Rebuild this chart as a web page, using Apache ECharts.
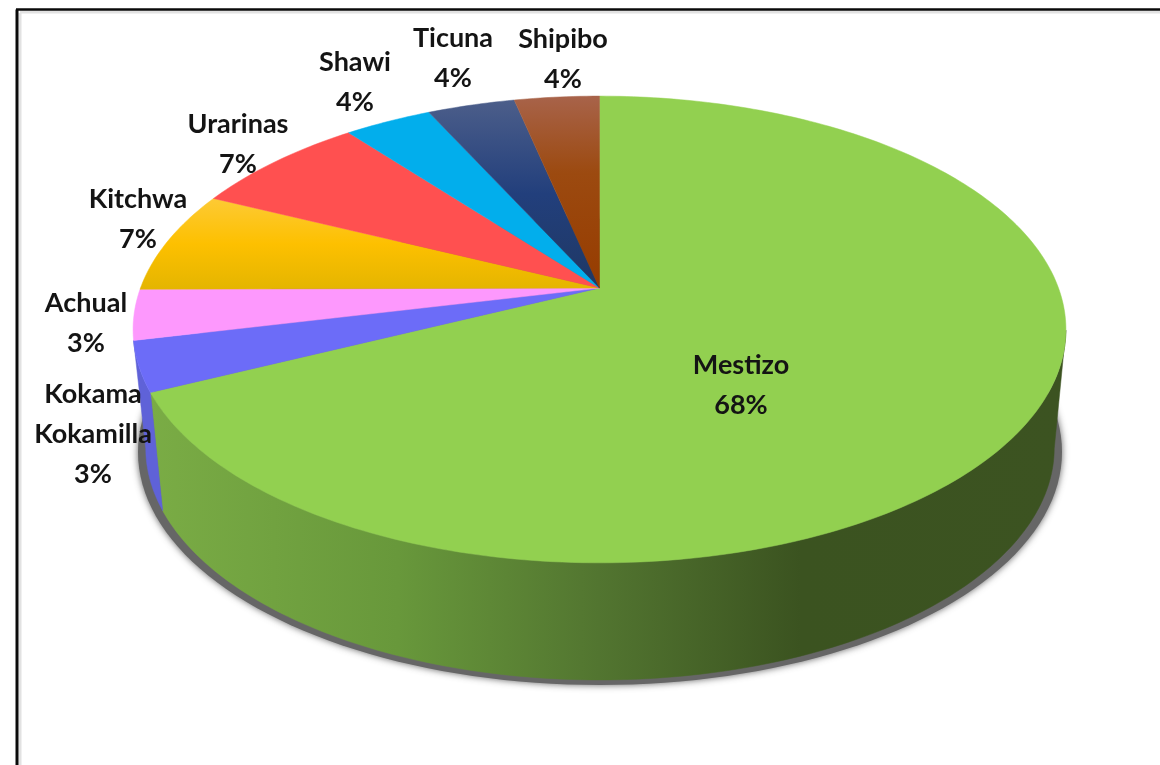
<!DOCTYPE html>
<html>
<head>
<meta charset="utf-8">
<title>Mestizo 68%</title>
<style>
html, body { margin: 0; padding: 0; background: #fff; }
#chart { width: 1160px; height: 765px; }
</style>
<script src="https://cdn.jsdelivr.net/npm/echarts@6/dist/echarts.min.js"></script>
</head>
<body>
<div id="chart"></div>
<script>
// data, clockwise from twelve o'clock
var groups = ["Mestizo", "Kokama\nKokamilla", "Achual", "Kitchwa", "Urarinas", "Shawi", "Ticuna", "Shipibo"];
var shares = [68, 3.45, 3.49, 7.1, 7.3, 3.6, 3.6, 3.5];

// label centres, same order as groups
var labelX = [741, 93, 86, 138, 238, 355, 453, 563];
var labelY = [385, 434, 323, 219, 144, 82, 58, 59];

function vGrad(stops) {
    return new echarts.graphic.LinearGradient(0, 0, 0, 1, stops);
}
var topColors = [
    "#92d050",
    "#6c6cf8",
    "#fd98fd",
    vGrad([{ offset: 0, color: "#fdca35" }, { offset: 0.5, color: "#fdc000" }, { offset: 1, color: "#e4b500" }]),
    "#ff5050",
    "#02aeec",
    vGrad([{ offset: 0, color: "#4c5e8a" }, { offset: 0.5, color: "#223f7c" }, { offset: 1, color: "#1f3864" }]),
    vGrad([{ offset: 0, color: "#a8634a" }, { offset: 0.4, color: "#9c4a10" }, { offset: 1, color: "#963c00" }])
];
var wallColors = [
    new echarts.graphic.LinearGradient(0, 0, 1, 0, [
        { offset: 0, color: "#7aac45" },
        { offset: 0.27, color: "#68983b" },
        { offset: 0.49, color: "#527530" },
        { offset: 0.71, color: "#3b5320" },
        { offset: 1, color: "#3c5321" }
    ]),
    "#5f62d8"
];

// the disc is a circle seen in perspective, apex is not the ellipse centre
var K = -0.1777;
var topFace = { x: 599.5, y: 288, a: 226, b: 459 };
var bottomFace = { x: 600, y: 406.8, a: 224.6, b: 447 };
var WALL_FROM = 100.4, WALL_TO = 259.6;

var total = 0;
var starts = [];
for (var i = 0; i < shares.length; ++i) {
    starts.push(total / 1 * 3.6);
    total += shares[i];
}
var scale = 100 / total;
for (var i = 0; i < starts.length; ++i) {
    starts[i] *= scale;
}
starts.push(360);

function project(face, deg) {
    var r = deg * Math.PI / 180;
    var u = Math.sin(r), v = -Math.cos(r);
    var w = 1 + K * v;
    return [face.x + face.b * u / w, face.y + face.a * v / w];
}

function arc(face, from, to) {
    var pts = [];
    var n = Math.max(2, Math.ceil(Math.abs(to - from)));
    for (var i = 0; i <= n; ++i) {
        pts.push(project(face, from + (to - from) * i / n));
    }
    return pts;
}

function renderShadow() {
    var pts = [];
    for (var d = 0; d < 360; d += 2) {
        var r = d * Math.PI / 180;
        pts.push([600 + 462 * Math.sin(r), 452 - 233 * Math.cos(r)]);
    }
    return {
        type: "polygon",
        shape: { points: pts },
        style: { fill: "#666", shadowBlur: 7, shadowColor: "rgba(60,60,60,0.8)" },
        silent: true
    };
}

function renderWall(params) {
    var i = params.dataIndex;
    var from = i === 0 ? WALL_FROM : starts[i];
    var to = i === 0 ? starts[1] : WALL_TO;
    // the top edge of the last part stops at the slice boundary
    var topTo = Math.min(to, starts[i + 1]);
    var pts = arc(topFace, from, topTo).concat(arc(bottomFace, to, from));
    return {
        type: "polygon",
        shape: { points: pts },
        style: { fill: wallColors[i], stroke: wallColors[i], lineWidth: 0.5 },
        silent: true
    };
}

function renderTop(params) {
    var i = params.dataIndex;
    var pts = [[topFace.x, topFace.y]].concat(arc(topFace, starts[i], starts[i + 1]));
    return {
        type: "polygon",
        shape: { points: pts },
        style: { fill: topColors[i], stroke: topColors[i], lineWidth: 0.5 },
        silent: true
    };
}

function renderLabel(params) {
    var i = params.dataIndex;
    return {
        type: "text",
        style: {
            text: groups[i] + "\n" + Math.round(shares[i]) + "%",
            x: labelX[i],
            y: labelY[i],
            align: "center",
            verticalAlign: "middle",
            fontFamily: "Lato",
            fontWeight: "bold",
            fontSize: 27,
            lineHeight: 40,
            fill: "#141414"
        },
        silent: true
    };
}

var chart = echarts.init(document.getElementById("chart"), null, { renderer: "canvas" });
chart.setOption({
    animation: false,
    graphic: [
        { type: "line", shape: { x1: 20, y1: 13, x2: 20, y2: 765 }, style: { stroke: "#e2e2e2", lineWidth: 3 }, silent: true },
        { type: "line", shape: { x1: 20, y1: 12, x2: 1160, y2: 12 }, style: { stroke: "#e2e2e2", lineWidth: 3 }, silent: true },
        { type: "line", shape: { x1: 17, y1: 9.5, x2: 17, y2: 765 }, style: { stroke: "#0a0a0a", lineWidth: 3 }, silent: true },
        { type: "line", shape: { x1: 16, y1: 9.5, x2: 1160, y2: 9.5 }, style: { stroke: "#0a0a0a", lineWidth: 2.5 }, silent: true }
    ],
    series: [
        { type: "custom", coordinateSystem: "none", renderItem: renderShadow, data: [0], z: 1 },
        { type: "custom", coordinateSystem: "none", renderItem: renderWall, data: shares.slice(0, 2), z: 2 },
        { type: "custom", coordinateSystem: "none", renderItem: renderTop, data: shares, z: 3 },
        { type: "custom", coordinateSystem: "none", renderItem: renderLabel, data: shares, z: 4 }
    ]
});
</script>
</body>
</html>
